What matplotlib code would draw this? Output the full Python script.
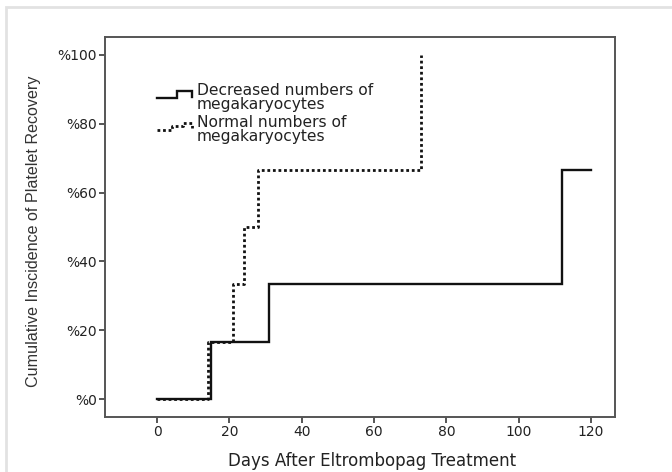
import matplotlib
matplotlib.use('Agg')
import matplotlib.pyplot as plt
from matplotlib.patches import Rectangle

# Cumulative incidence steps (days, percent recovered)
decreased_days = [0, 15, 31, 112, 120]
decreased_pct = [0, 16.67, 33.33, 66.67, 66.67]
normal_days = [0, 14, 21, 24, 28, 73]
normal_pct = [0, 16.67, 33.33, 50, 66.67, 100]

x_ticks = [0, 20, 40, 60, 80, 100, 120]
y_ticks = [0, 20, 40, 60, 80, 100]
y_tick_labels = ['%0', '%20', '%40', '%60', '%80', '%100']

legend_labels = ['Decreased numbers of\nmegakaryocytes',
                 'Normal numbers of\nmegakaryocytes']

frame_color = '#555555'

fig = plt.figure(figsize=(6.72, 4.72), dpi=100)
ax = fig.add_axes([0.15625, 0.1165, 0.7589, 0.8051])

# light outer frame around the figure
fig.patches.append(Rectangle((6 / 672, -0.2), 1.2, 1.2 - 7 / 472,
                             transform=fig.transFigure, fill=False,
                             edgecolor='#e2e2e2', linewidth=2))

ax.step(decreased_days, decreased_pct, where='post', color='#111111',
        linewidth=1.7, solid_joinstyle='miter')
ax.step(normal_days, normal_pct, where='post', color='#111111',
        linewidth=2.0, linestyle=(0, (1, 1)))

ax.set_xlim(-14.4, 126.6)
ax.set_ylim(-5.2, 105.2)
ax.set_xticks(x_ticks)
ax.set_yticks(y_ticks)
ax.set_yticklabels(y_tick_labels)

for side in ax.spines.values():
    side.set_color(frame_color)
    side.set_linewidth(1.4)
ax.tick_params(direction='out', length=4, width=1.4, color=frame_color,
               labelsize=10, labelcolor='#222222', pad=2)
for lbl in ax.get_xticklabels() + ax.get_yticklabels():
    lbl.set_family('DejaVu Sans')

ax.set_xlabel('Days After Eltrombopag Treatment', fontsize=12,
              family='DejaVu Sans', color='#222222')
ax.xaxis.set_label_coords(0.523, -0.092)
ax.set_ylabel('Cumulative Inscidence of Platelet Recovery', fontsize=11.6,
              family='Liberation Sans', color='#333333')
ax.yaxis.set_label_coords(-0.125, 0.49)

# step-shaped legend keys
ax.plot([0.102, 0.141, 0.141, 0.171, 0.171], [0.839, 0.839, 0.858, 0.858, 0.842],
        transform=ax.transAxes, color='#111111', linewidth=1.7,
        solid_joinstyle='miter')
ax.plot([0.102, 0.131, 0.131, 0.153, 0.153, 0.171, 0.171],
        [0.755, 0.755, 0.766, 0.766, 0.774, 0.774, 0.761],
        transform=ax.transAxes, color='#111111', linewidth=2.0,
        linestyle=(0, (1, 1)))
ax.text(0.180, 0.840, legend_labels[0], transform=ax.transAxes, va='center',
        ha='left', fontsize=11.2, linespacing=0.92, color='#222222')
ax.text(0.180, 0.756, legend_labels[1], transform=ax.transAxes, va='center',
        ha='left', fontsize=11.2, linespacing=0.92, color='#222222')

fig.savefig('out.png', dpi=100)
